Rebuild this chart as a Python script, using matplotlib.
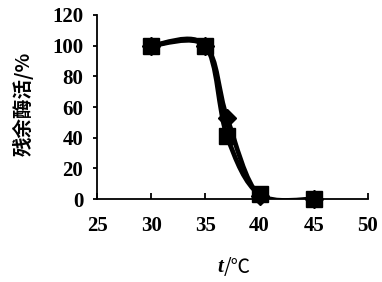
import matplotlib
matplotlib.use('Agg')
import matplotlib.pyplot as plt
from matplotlib.path import Path
from matplotlib.patches import PathPatch

# data
temp = [30, 35, 37, 40, 45]
act_a = [100, 100, 41, 3, 0]     # squares
act_b = [100, 100, 53, 2, 0]     # diamonds
xticks = [25, 30, 35, 40, 45, 50]
yticks = [0, 20, 40, 60, 80, 100, 120]


def smooth_path(xs, ys):
    # Excel-style smoothed line: cubic bezier with 1/6 tangents
    pts = list(zip(xs, ys))
    n = len(pts)
    verts = [pts[0]]
    codes = [Path.MOVETO]
    for i in range(n - 1):
        p0 = pts[max(i - 1, 0)]
        p1 = pts[i]
        p2 = pts[i + 1]
        p3 = pts[min(i + 2, n - 1)]
        c1 = (p1[0] + (p2[0] - p0[0]) / 6, p1[1] + (p2[1] - p0[1]) / 6)
        c2 = (p2[0] - (p3[0] - p1[0]) / 6, p2[1] - (p3[1] - p1[1]) / 6)
        verts += [c1, c2, p2]
        codes += [Path.CURVE4] * 3
    return Path(verts, codes)


fig = plt.figure(figsize=(3.82, 2.82), dpi=100)
ax = fig.add_axes([0.254, 0.294, 0.709, 0.653])

for ys, mk, ms in [(act_b, 'D', 9), (act_a, 's', 12)]:
    ax.add_patch(PathPatch(smooth_path(temp, ys), fill=False, lw=3.4,
                           edgecolor='black', capstyle='round'))
    ax.plot(temp, ys, linestyle='none', marker=mk, markersize=ms,
            color='black', clip_on=False)

ax.set_xlim(25, 50)
ax.set_ylim(0, 120)
ax.set_xticks(xticks)
ax.set_yticks(yticks)
for s in ['top', 'right']:
    ax.spines[s].set_visible(False)
for s in ['left', 'bottom']:
    ax.spines[s].set_linewidth(1.3)

ax.tick_params(axis='x', direction='in', length=4, width=1.3, pad=12)
ax.tick_params(axis='y', direction='out', length=3, width=1.3, pad=7)
for lab in ax.get_xticklabels() + ax.get_yticklabels():
    lab.set_fontfamily('Liberation Serif')
    lab.set_fontweight('bold')
    lab.set_fontsize(15)

fig.text(0.06, 0.63, '残余酶活/%', rotation=90, ha='center', va='center',
         fontsize=14, fontweight='bold',
         family=['Noto Sans CJK SC', 'DejaVu Sans'])
fig.text(0.585, 0.052, 't', ha='right', va='center', fontsize=15,
         style='italic', fontweight='bold', family='Liberation Serif')
fig.text(0.585, 0.052, '/℃', ha='left', va='center', fontsize=14,
         family=['Noto Sans CJK SC', 'DejaVu Sans'])

fig.savefig('out.png', dpi=100)
